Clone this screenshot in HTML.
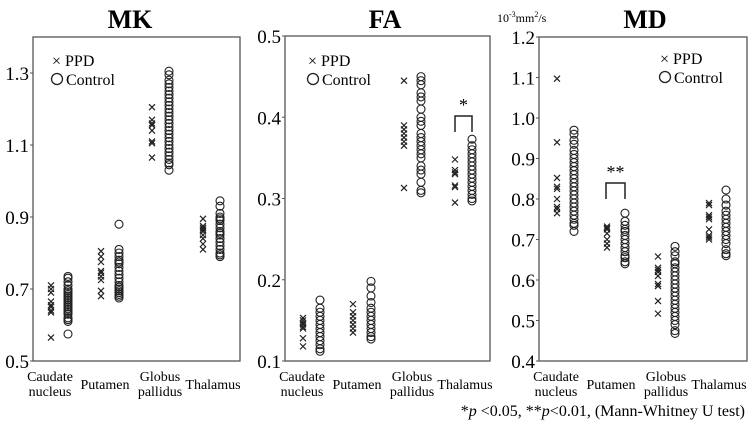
<!DOCTYPE html>
<html><head><meta charset="utf-8"><style>
body{margin:0;background:#fff;}
svg{display:block;}
svg text{font-family:"Liberation Serif","Times New Roman",serif;}
</style></head><body>
<svg id="c" width="751" height="438" font-family="Liberation Serif, serif">
<text x="130" y="28" font-size="26" font-weight="bold" text-anchor="middle">MK</text>
<text x="385" y="28" font-size="26" font-weight="bold" text-anchor="middle">FA</text>
<text x="645" y="28" font-size="26" font-weight="bold" text-anchor="middle">MD</text>
<text x="497" y="22" font-size="12">10<tspan dy="-5" font-size="8">-3</tspan><tspan dy="5">mm</tspan><tspan dy="-5" font-size="8">2</tspan><tspan dy="5">/s</tspan></text>
<text x="745" y="416" font-size="16" text-anchor="end">*<tspan font-style="italic">p</tspan> &lt;0.05, **<tspan font-style="italic">p</tspan>&lt;0.01, (Mann-Whitney U test)</text>
</svg>
<script>
const categories = ["Caudate nucleus","Putamen","Globus pallidus","Thalamus"];
const mkTicks = [0.5,0.7,0.9,1.1,1.3];
const faTicks = [0.1,0.2,0.3,0.4,0.5];
const mdTicks = [0.4,0.5,0.6,0.7,0.8,0.9,1.0,1.1,1.2];
const mkPPD = [
 [0.71,0.70,0.69,0.665,0.655,0.65,0.64,0.635,0.565],
 [0.805,0.79,0.775,0.75,0.745,0.735,0.725,0.695,0.68],
 [1.205,1.17,1.16,1.155,1.14,1.11,1.105,1.065],
 [0.895,0.875,0.87,0.865,0.86,0.85,0.84,0.825,0.81]];
const mkControl = [
 [0.735,0.73,0.72,0.71,0.70,0.695,0.69,0.685,0.68,0.675,0.67,0.665,0.66,0.655,0.65,0.645,0.64,0.635,0.63,0.62,0.615,0.61,0.575],
 [0.88,0.81,0.80,0.79,0.78,0.775,0.77,0.76,0.75,0.74,0.73,0.72,0.71,0.705,0.70,0.695,0.69,0.685,0.68,0.675],
 [1.305,1.295,1.28,1.27,1.26,1.25,1.24,1.23,1.22,1.21,1.20,1.19,1.18,1.17,1.16,1.15,1.14,1.13,1.12,1.11,1.10,1.09,1.08,1.07,1.06,1.05,1.045,1.03],
 [0.945,0.93,0.91,0.90,0.895,0.89,0.88,0.87,0.86,0.855,0.85,0.84,0.83,0.82,0.81,0.80,0.795,0.79]];
const faPPD = [
 [0.153,0.15,0.147,0.145,0.142,0.14,0.128,0.118],
 [0.17,0.16,0.155,0.15,0.145,0.14,0.135],
 [0.445,0.39,0.385,0.38,0.375,0.37,0.365,0.313],
 [0.348,0.335,0.332,0.33,0.316,0.314,0.295]];
const faControl = [
 [0.175,0.165,0.16,0.155,0.15,0.145,0.14,0.135,0.13,0.125,0.12,0.115,0.112],
 [0.198,0.19,0.18,0.172,0.165,0.16,0.155,0.15,0.145,0.14,0.135,0.13,0.127],
 [0.45,0.445,0.44,0.43,0.425,0.42,0.41,0.40,0.395,0.39,0.38,0.375,0.37,0.365,0.36,0.355,0.35,0.34,0.335,0.33,0.32,0.31,0.307],
 [0.373,0.365,0.36,0.355,0.35,0.345,0.34,0.335,0.33,0.325,0.32,0.315,0.31,0.305,0.30,0.297]];
const mdPPD = [
 [1.097,0.94,0.852,0.83,0.825,0.80,0.78,0.775,0.765],
 [0.732,0.728,0.725,0.715,0.70,0.69,0.68],
 [0.658,0.63,0.625,0.62,0.61,0.59,0.585,0.548,0.517],
 [0.79,0.785,0.76,0.755,0.75,0.725,0.71,0.705,0.70]];
const mdControl = [
 [0.97,0.96,0.945,0.935,0.92,0.91,0.90,0.89,0.88,0.87,0.86,0.85,0.84,0.83,0.82,0.81,0.80,0.79,0.78,0.77,0.76,0.75,0.74,0.735,0.72],
 [0.765,0.745,0.735,0.725,0.72,0.71,0.70,0.69,0.68,0.67,0.66,0.655,0.645,0.64],
 [0.683,0.67,0.66,0.645,0.64,0.63,0.62,0.61,0.60,0.59,0.58,0.57,0.56,0.55,0.54,0.53,0.52,0.51,0.50,0.49,0.475,0.468],
 [0.822,0.80,0.785,0.77,0.76,0.75,0.74,0.73,0.72,0.71,0.70,0.69,0.675,0.665,0.66]];

const NS="http://www.w3.org/2000/svg";
const svg=document.getElementById('c');
function mk(tag,attrs,parent){const e=document.createElementNS(NS,tag);for(const k in attrs)e.setAttribute(k,attrs[k]);(parent||svg).appendChild(e);return e;}
const offP=[18,68,119,170], offC=[35,86,136,187];
function panel(name,x0,x1,yTop,yBot,vmin,vmax,ticks,ppd,ctrl,legX,legY){
  const g=mk('g',{});
  
  
  const y=v=>yBot-(v-vmin)/(vmax-vmin)*(yBot-yTop);
  const box=mk('rect',{x:x0,y:yTop,width:x1-x0,height:yBot-yTop,fill:'none',stroke:'#555','stroke-width':1.3},g);
  
  
  ticks.forEach(t=>{
    const tk=mk('line',{x1:x0-3,x2:x0,y1:y(t),y2:y(t),stroke:'#555'},g);
    
    
    const tx=mk('text',{x:x0-4,y:y(t)+7,'font-size':19,'text-anchor':'end'},g);
    tx.textContent=t.toFixed(1);
    
    
  });
  const cx=[50,105,160,213];
  categories.forEach((c,i)=>{
    const parts=c.split(' ');
    const cxp=x0+cx[i]-33;
    if(parts.length===2){
      const a=mk('text',{x:cxp,y:381,'font-size':14,'text-anchor':'middle'},g);a.textContent=parts[0];
      
      
      const b=mk('text',{x:cxp,y:396,'font-size':14,'text-anchor':'middle'},g);b.textContent=parts[1];
      
      
    } else {
      const a=mk('text',{x:cxp,y:389,'font-size':14,'text-anchor':'middle'},g);a.textContent=c;
      
      
    }
  });
  ppd.forEach((arr,i)=>arr.forEach(v=>{
    const px=x0+offP[i], py=y(v), s=3;
    const p=mk('path',{d:`M${px-s},${py-s}L${px+s},${py+s}M${px+s},${py-s}L${px-s},${py+s}`,stroke:'#222','stroke-width':1.2,fill:'none'},g);
    
    
  }));
  ctrl.forEach((arr,i)=>arr.forEach(v=>{
    const ci=mk('circle',{cx:x0+offC[i],cy:y(v),r:4,fill:'none',stroke:'#222','stroke-width':1.1},g);
    
    
  }));
  const l1=mk('text',{x:legX,y:legY,'font-size':16},g);l1.textContent='× PPD';
  
  
  const lc=mk('circle',{cx:legX+5,cy:legY+13,r:5.5,fill:'none',stroke:'#222','stroke-width':1.3},g);
  
  
  const l2=mk('text',{x:legX+14,y:legY+19,'font-size':16},g);l2.textContent='Control';
  
  
}
panel('mk',33,240,37,361,0.5,1.4,mkTicks,mkPPD,mkControl,52,66);
panel('fa',285,490,36,361,0.1,0.5,faTicks,faPPD,faControl,308,66);
panel('md',539,747,37,361,0.4,1.2,mdTicks,mdPPD,mdControl,660,64);
function bracket(name,xa,xb,yt,yb,label){
  const p=mk('path',{d:`M${xa},${yb}V${yt}H${xb}V${yb}`,fill:'none',stroke:'#222','stroke-width':1.5});
  
  
  const t=mk('text',{x:(xa+xb)/2,y:yt-5,'font-size':18,'text-anchor':'middle'});t.textContent=label;
  
  
}
bracket('fa-thalamus',455,472,116,132,'*');
bracket('md-putamen',606,625,183,199,'**');
</script>
</body></html>
